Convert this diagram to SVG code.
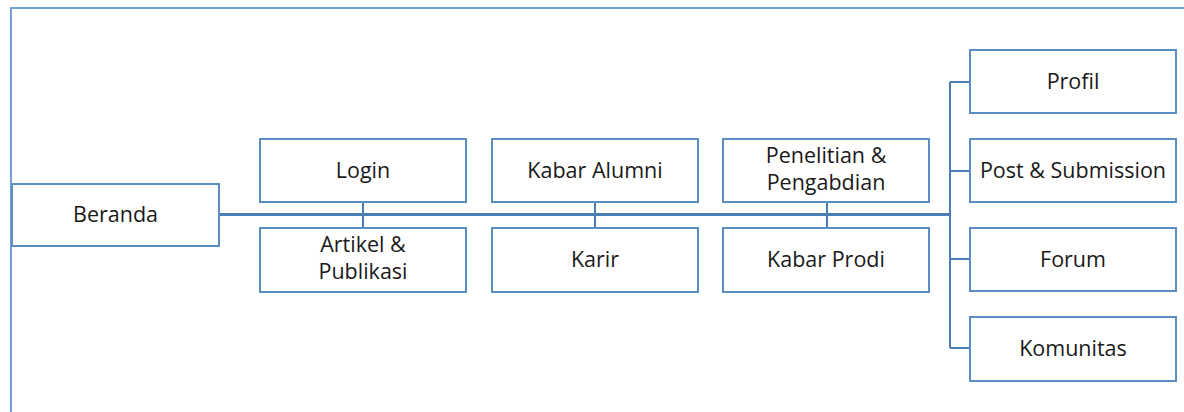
<svg xmlns="http://www.w3.org/2000/svg" width="1184" height="412" viewBox="0 0 1184 412">
<style>
.frame{fill:none;stroke:#6fa3d8;stroke-width:2}
.box{fill:#fff;stroke:#5b8ec4;stroke-width:2}
.lbl{font-family:"Open Sans","Liberation Sans",sans-serif;font-size:21.5px;fill:#1a1a1a;text-anchor:middle}
.c{fill:none;stroke:#4a7eb5;stroke-width:2}
.main{fill:none;stroke:#4a7eb5;stroke-width:3}
</style>
<rect width="1184" height="412" fill="#fff"/>
<path class="frame" d="M11,412 V8 H1184"/>
<g id="connectors">
<path class="main" d="M219,214.5 H951"/>
<path class="c" d="M950,82 V348 M950,82 H970 M950,171 H970 M950,259 H970 M950,348 H970"/>
<path class="c" d="M363,202 V228 M595,202 V228 M827,202 V228"/>
</g>
<g id="beranda"><rect class="box" x="12" y="184" width="207" height="62"/><text class="lbl" x="115.5" y="222">Beranda</text></g>
<g id="login"><rect class="box" x="260" y="139" width="206" height="63"/><text class="lbl" x="363" y="178">Login</text></g>
<g id="artikel"><rect class="box" x="260" y="228" width="206" height="64"/><text class="lbl" x="363" y="252">Artikel &amp;</text><text class="lbl" x="363" y="279">Publikasi</text></g>
<g id="kabar-alumni"><rect class="box" x="492" y="139" width="206" height="63"/><text class="lbl" x="595" y="178">Kabar Alumni</text></g>
<g id="karir"><rect class="box" x="492" y="228" width="206" height="64"/><text class="lbl" x="595" y="267">Karir</text></g>
<g id="penelitian"><rect class="box" x="723" y="139" width="206" height="63"/><text class="lbl" x="826" y="163">Penelitian &amp;</text><text class="lbl" x="826" y="190">Pengabdian</text></g>
<g id="kabar-prodi"><rect class="box" x="723" y="228" width="206" height="64"/><text class="lbl" x="826" y="267">Kabar Prodi</text></g>
<g id="profil"><rect class="box" x="970" y="50" width="206" height="63"/><text class="lbl" x="1073" y="89">Profil</text></g>
<g id="post"><rect class="box" x="970" y="139" width="206" height="63"/><text class="lbl" x="1073" y="178">Post &amp; Submission</text></g>
<g id="forum"><rect class="box" x="970" y="228" width="206" height="63"/><text class="lbl" x="1073" y="267">Forum</text></g>
<g id="komunitas"><rect class="box" x="970" y="317" width="206" height="64"/><text class="lbl" x="1073" y="356">Komunitas</text></g>
</svg>
